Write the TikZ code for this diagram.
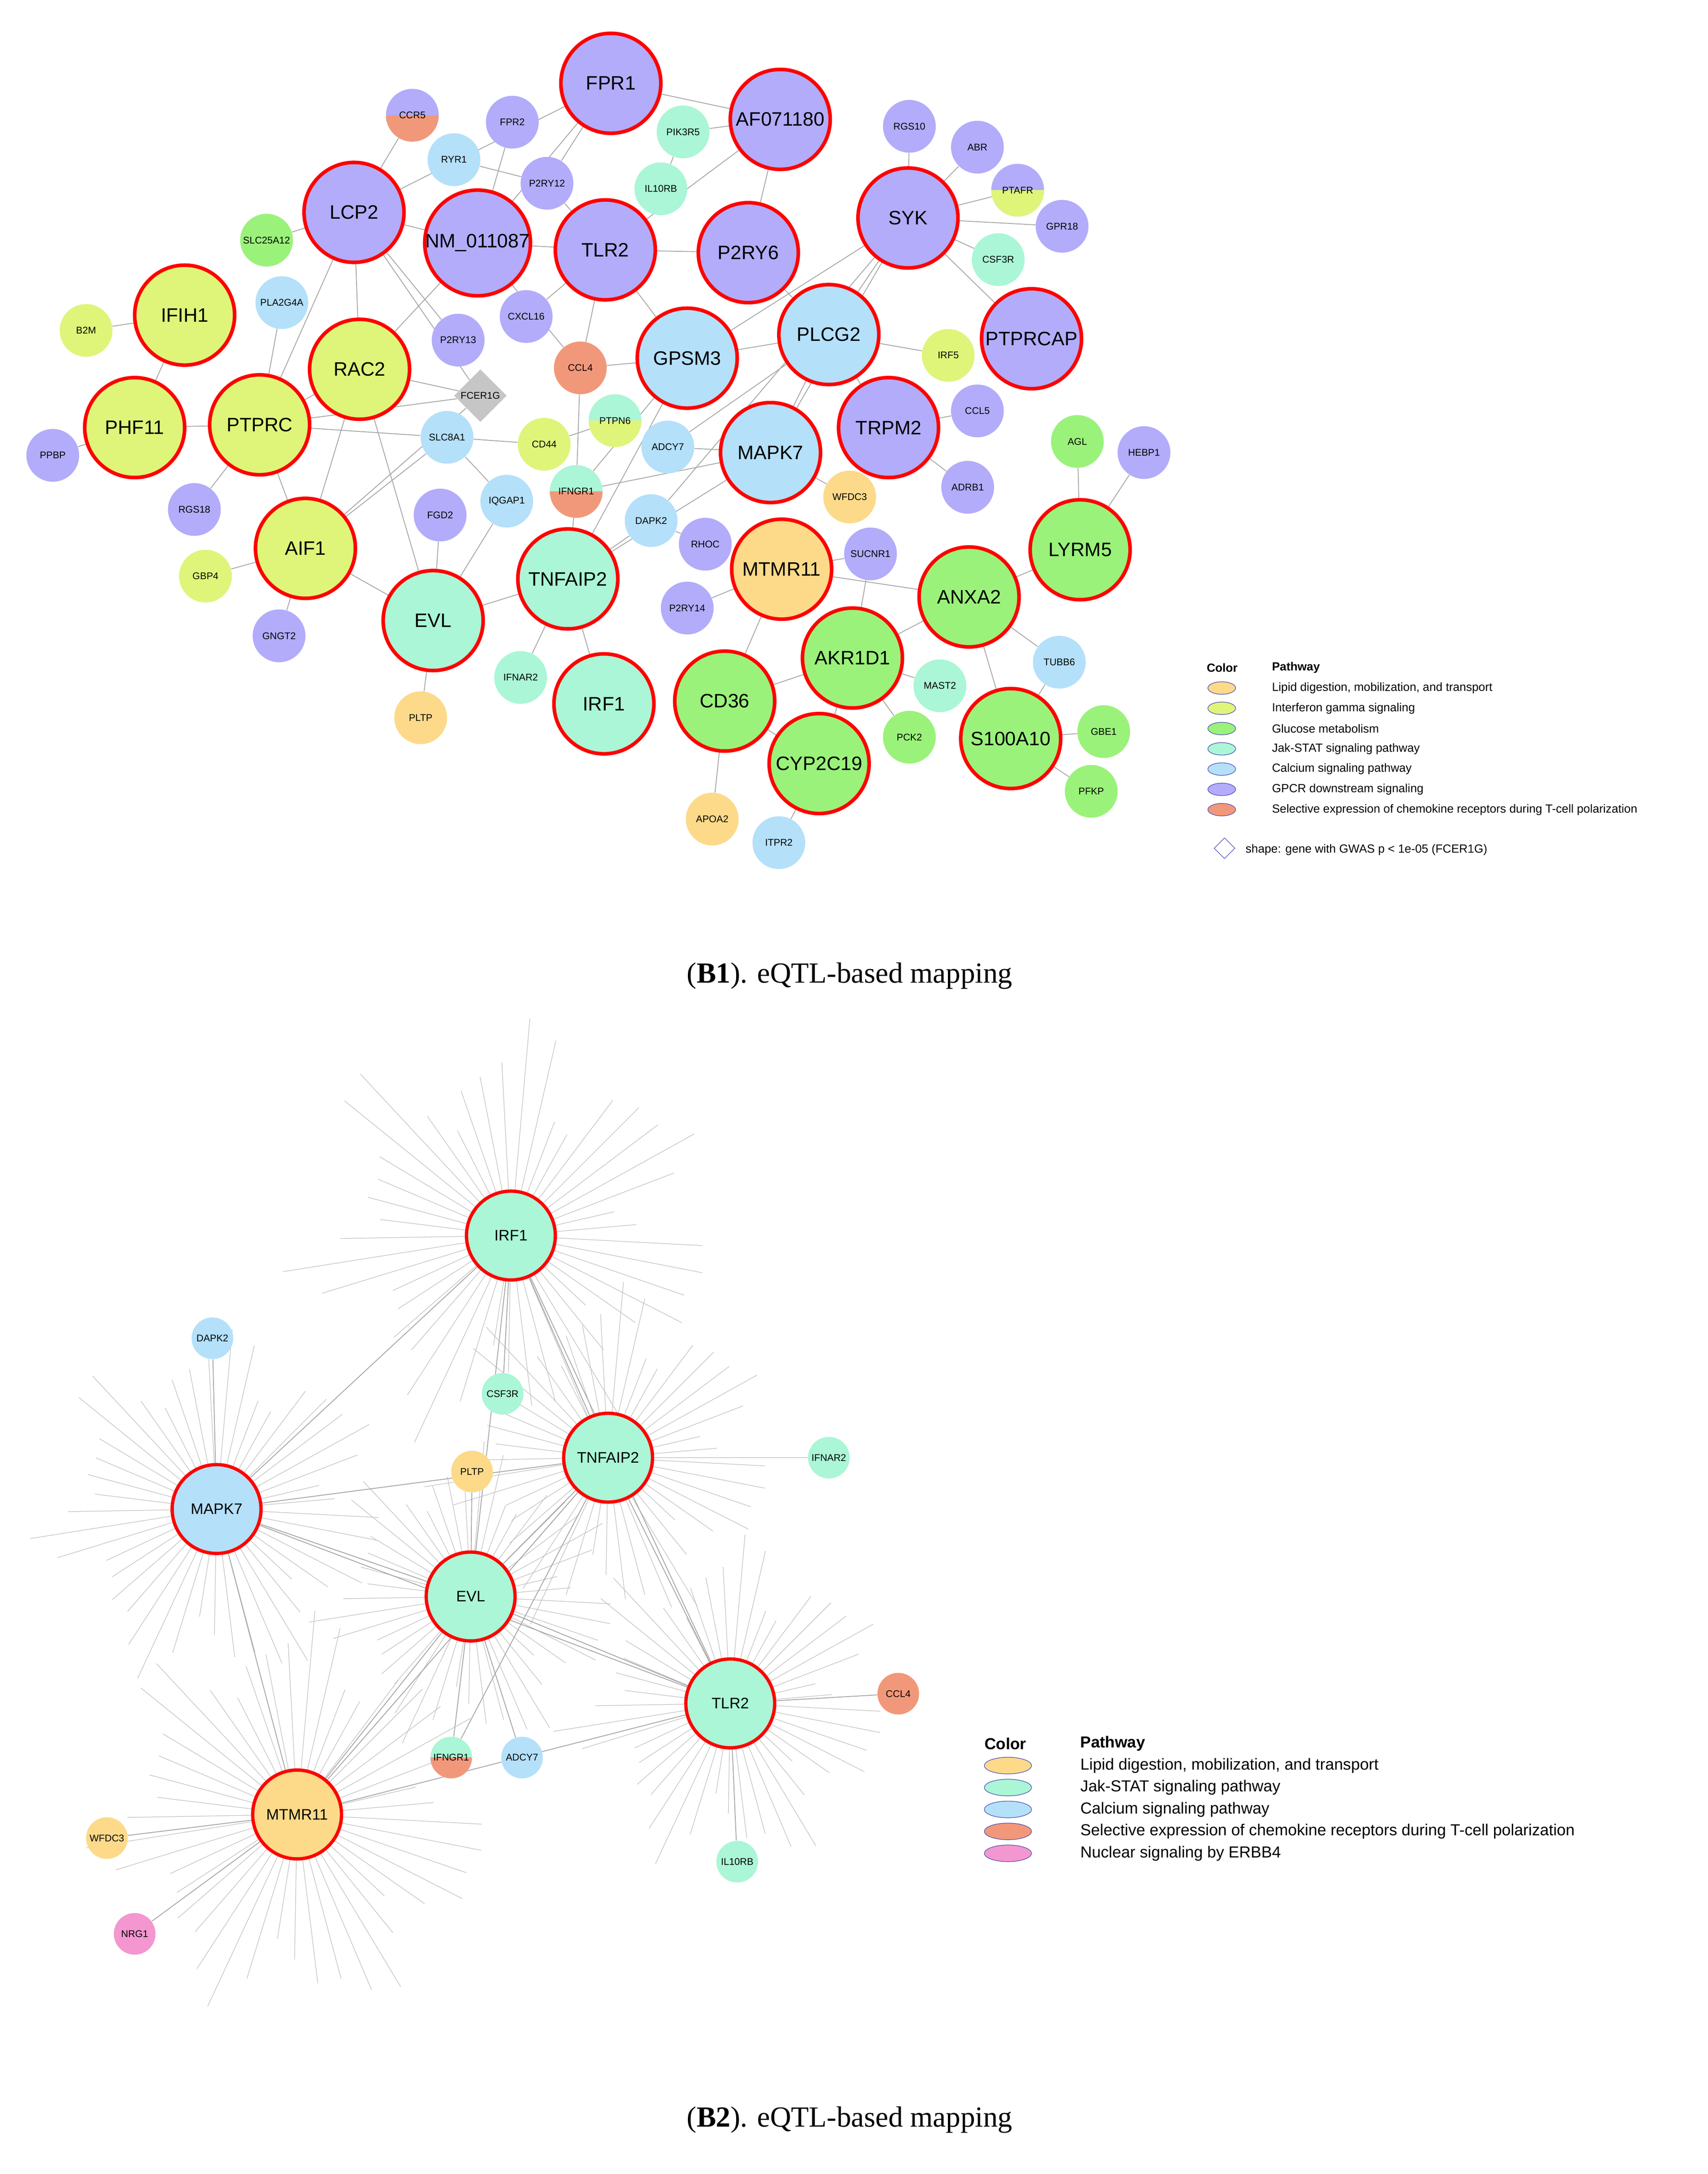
\documentclass[tikz,border=0pt]{standalone}
\usepackage{fontspec}
\setsansfont{Liberation Sans}
\setmainfont{Liberation Serif}
\usetikzlibrary{backgrounds,shapes.geometric}
\definecolor{gp}{RGB}{178,172,250}
\definecolor{yg}{RGB}{222,245,122}
\definecolor{gr}{RGB}{154,242,122}
\definecolor{mt}{RGB}{170,246,214}
\definecolor{lb}{RGB}{180,224,250}
\definecolor{or}{RGB}{252,218,138}
\definecolor{sa}{RGB}{242,152,122}
\definecolor{pk}{RGB}{244,150,208}
\tikzset{
 big/.style={circle,draw=red,line width=2.6pt,minimum size=72pt,inner sep=0pt,font=\fontsize{14}{14}\sffamily},
 bigb/.style={circle,draw=red,line width=2.4pt,minimum size=64pt,inner sep=0pt,font=\fontsize{11}{11}\sffamily},
 sm/.style={circle,minimum size=38pt,inner sep=0pt,font=\fontsize{7}{7}\sffamily},
 smb/.style={circle,minimum size=30pt,inner sep=0pt,font=\fontsize{7}{7}\sffamily},
 ed/.style={draw=gray!70,line width=0.6pt},
 sp/.style={draw=gray!50,line width=0.4pt},
 leg/.style={ellipse,draw=gray!60!blue,minimum width=20pt,minimum height=9pt,inner sep=0pt},
 lt/.style={anchor=west,font=\fontsize{8.5}{9}\sffamily,inner sep=0pt},
 lt2/.style={anchor=west,font=\fontsize{11.5}{12}\sffamily,inner sep=0pt},
 lower/.style={path picture={\fill[#1] (path picture bounding box.south west) rectangle (path picture bounding box.east);}},
}
\begin{document}
\begin{tikzpicture}[x=1pt,y=-1pt]
\useasboundingbox (0,0) rectangle (1230,1566);
% ---------- B1 ----------
\node[big,fill=gp] (FPR1) at (440,60) {FPR1};
\node[big,fill=gp] (AF) at (562,86) {AF071180};
\node[big,fill=gp] (LCP2) at (255,153) {LCP2};
\node[big,fill=gp] (NM) at (344,175) {NM\_011087};
\node[big,fill=gp] (TLR2) at (436,180) {TLR2};
\node[big,fill=gp] (P2RY6) at (539,182) {P2RY6};
\node[big,fill=gp] (SYK) at (654,157) {SYK};
\node[big,fill=yg] (IFIH1) at (133,227) {IFIH1};
\node[big,fill=yg] (RAC2) at (259,266) {RAC2};
\node[big,fill=yg] (PTPRC) at (187,306) {PTPRC};
\node[big,fill=yg] (PHF11) at (97,308) {PHF11};
\node[big,fill=lb] (GPSM3) at (495,258) {GPSM3};
\node[big,fill=lb] (PLCG2) at (597,241) {PLCG2};
\node[big,fill=gp] (PTPRCAP) at (743,244) {PTPRCAP};
\node[big,fill=lb] (MAPK7) at (555,326) {MAPK7};
\node[big,fill=gp] (TRPM2) at (640,308) {TRPM2};
\node[big,fill=yg] (AIF1) at (220,395) {AIF1};
\node[big,fill=mt] (EVL) at (312,447) {EVL};
\node[big,fill=mt] (TNFAIP2) at (409,417) {TNFAIP2};
\node[big,fill=or] (MTMR11) at (563,410) {MTMR11};
\node[big,fill=gr] (LYRM5) at (778,396) {LYRM5};
\node[big,fill=gr] (ANXA2) at (698,430) {ANXA2};
\node[big,fill=gr] (AKR1D1) at (614,474) {AKR1D1};
\node[big,fill=mt] (IRF1) at (435,507) {IRF1};
\node[big,fill=gr] (CD36) at (522,505) {CD36};
\node[big,fill=gr] (CYP2C19) at (590,550) {CYP2C19};
\node[big,fill=gr] (S100A10) at (728,532) {S100A10};
\node[sm,fill=gp,lower=sa] (CCR5) at (297,83) {CCR5};
\node[sm,fill=gp] (FPR2) at (369,88) {FPR2};
\node[sm,fill=lb] (RYR1) at (327,115) {RYR1};
\node[sm,fill=gp] (P2RY12) at (394,132) {P2RY12};
\node[sm,fill=mt] (PIK3R5) at (492,95) {PIK3R5};
\node[sm,fill=mt] (IL10RB) at (476,136) {IL10RB};
\node[sm,fill=gp] (RGS10) at (655,91) {RGS10};
\node[sm,fill=gp] (ABR) at (704,106) {ABR};
\node[sm,fill=gp,lower=yg] (PTAFR) at (733,137) {PTAFR};
\node[sm,fill=gp] (GPR18) at (765,163) {GPR18};
\node[sm,fill=mt] (CSF3R) at (719,187) {CSF3R};
\node[sm,fill=gr] (SLC25A12) at (192,173) {SLC25A12};
\node[sm,fill=lb] (PLA2G4A) at (203,218) {PLA2G4A};
\node[sm,fill=yg] (B2M) at (62,238) {B2M};
\node[sm,fill=gp] (P2RY13) at (330,245) {P2RY13};
\node[sm,fill=gp] (CXCL16) at (379,228) {CXCL16};
\node[diamond,fill=gray!45,minimum size=38pt,inner sep=0pt,font=\fontsize{7}{7}\sffamily] (FCER1G) at (346,285) {FCER1G};
\node[sm,fill=sa] (CCL4) at (418,265) {CCL4};
\node[sm,fill=yg] (IRF5) at (683,256) {IRF5};
\node[sm,fill=gp] (CCL5) at (704,296) {CCL5};
\node[sm,fill=mt,lower=yg] (PTPN6) at (443,303) {PTPN6};
\node[sm,fill=yg] (CD44) at (392,320) {CD44};
\node[sm,fill=lb] (SLC8A1) at (322,315) {SLC8A1};
\node[sm,fill=lb] (ADCY7) at (481,322) {ADCY7};
\node[sm,fill=gp] (PPBP) at (38,328) {PPBP};
\node[sm,fill=lb] (IQGAP1) at (365,361) {IQGAP1};
\node[sm,fill=mt,lower=sa] (IFNGR1) at (415,354) {IFNGR1};
\node[sm,fill=gp] (FGD2) at (317,371) {FGD2};
\node[sm,fill=gp] (RGS18) at (140,367) {RGS18};
\node[sm,fill=lb] (DAPK2) at (469,375) {DAPK2};
\node[sm,fill=gp] (RHOC) at (508,392) {RHOC};
\node[sm,fill=or] (WFDC3) at (612,358) {WFDC3};
\node[sm,fill=gp] (ADRB1) at (697,351) {ADRB1};
\node[sm,fill=gr] (AGL) at (776,318) {AGL};
\node[sm,fill=gp] (HEBP1) at (824,326) {HEBP1};
\node[sm,fill=gp] (SUCNR1) at (627,399) {SUCNR1};
\node[sm,fill=yg] (GBP4) at (148,415) {GBP4};
\node[sm,fill=gp] (P2RY14) at (495,438) {P2RY14};
\node[sm,fill=gp] (GNGT2) at (201,458) {GNGT2};
\node[sm,fill=mt] (IFNAR2) at (375,488) {IFNAR2};
\node[sm,fill=lb] (TUBB6) at (763,477) {TUBB6};
\node[sm,fill=mt] (MAST2) at (677,494) {MAST2};
\node[sm,fill=or] (PLTP) at (303,517) {PLTP};
\node[sm,fill=gr] (PCK2) at (655,531) {PCK2};
\node[sm,fill=gr] (GBE1) at (795,527) {GBE1};
\node[sm,fill=gr] (PFKP) at (786,570) {PFKP};
\node[sm,fill=or] (APOA2) at (513,590) {APOA2};
\node[sm,fill=lb] (ITPR2) at (561,607) {ITPR2};
\begin{scope}[on background layer]
\foreach \a/\b in {FPR1/AF,FPR1/NM,FPR1/LCP2,AF/TLR2,AF/P2RY6,AF/PIK3R5,LCP2/CCR5,LCP2/NM,LCP2/RAC2,LCP2/PTPRC,LCP2/P2RY13,LCP2/FCER1G,NM/TLR2,NM/FPR2,NM/RAC2,TLR2/P2RY6,TLR2/GPSM3,TLR2/CCL4,SYK/PLCG2,SYK/RGS10,SYK/ABR,SYK/GPR18,SYK/PTPRCAP,SYK/MAPK7,SYK/GPSM3,P2RY6/PLCG2,PLCG2/TRPM2,PLCG2/MAPK7,PLCG2/IRF5,TRPM2/ADRB1,TRPM2/CCL5,MAPK7/ADCY7,MAPK7/TNFAIP2,MAPK7/IFNGR1,GPSM3/CCL4,GPSM3/TNFAIP2,RAC2/PTPRC,RAC2/AIF1,RAC2/EVL,PTPRC/PHF11,PTPRC/AIF1,PTPRC/RGS18,PTPRC/SLC8A1,PTPRC/PLA2G4A,IFIH1/B2M,IFIH1/PHF11,PHF11/PPBP,AIF1/GBP4,AIF1/GNGT2,AIF1/EVL,AIF1/FCER1G,EVL/TNFAIP2,EVL/PLTP,EVL/FGD2,TNFAIP2/IRF1,TNFAIP2/IFNAR2,TNFAIP2/IFNGR1,TNFAIP2/DAPK2,MTMR11/CD36,MTMR11/ANXA2,MTMR11/P2RY14,MTMR11/SUCNR1,ANXA2/LYRM5,ANXA2/AKR1D1,ANXA2/S100A10,ANXA2/TUBB6,LYRM5/AGL,LYRM5/HEBP1,AKR1D1/CD36,AKR1D1/PCK2,AKR1D1/MAST2,AKR1D1/CYP2C19,AKR1D1/SUCNR1,S100A10/GBE1,S100A10/PFKP,S100A10/TUBB6,CD36/APOA2,CYP2C19/ITPR2,CD36/CYP2C19,IFNGR1/CCL4,CD44/SLC8A1,SLC8A1/IQGAP1,PTPN6/CD44,RYR1/P2RY12,P2RY12/TLR2,IL10RB/PIK3R5,CXCL16/TLR2,PLCG2/GPSM3,MAPK7/WFDC3,DAPK2/RHOC,LCP2/SLC25A12,RAC2/FCER1G,NM/CCL4,SYK/CSF3R,SYK/PTAFR,PLCG2/ADCY7,GPSM3/IFNGR1,AIF1/SLC8A1,PTPRC/FCER1G,FPR1/P2RY12,SYK/DAPK2,EVL/IQGAP1}
 \draw[ed] (\a) -- (\b);
\end{scope}
% legend B1
\node[lt,font=\fontsize{8.5}{9}\sffamily\bfseries] at (869,481) {Color};
\node[lt,font=\fontsize{8.5}{9}\sffamily\bfseries] at (916,481) {Pathway};
\foreach \c/\t [count=\i] in {or/{Lipid digestion, mobilization, and transport},yg/Interferon gamma signaling,gr/Glucose metabolism,mt/Jak-STAT signaling pathway,lb/Calcium signaling pathway,gp/GPCR downstream signaling,sa/Selective expression of chemokine receptors during T-cell polarization}{
 \node[leg,fill=\c] (l\i) at (880,{481+14.6*\i}) {};
 \node[lt] at (916,{481+14.6*\i}) {\t};}
\node[diamond,draw=gray!60!blue,minimum size=15pt,inner sep=0pt] (ld) at (882,611) {};
\node[lt] at (897,612) {shape: gene with GWAS p < 1e-05 (FCER1G)};
\node[font=\fontsize{21}{21}\selectfont] (c1) at (612,703) {(\textbf{B1}). eQTL-based mapping};
% ---------- B2 ----------
\node[bigb,fill=mt] (IRF1b) at (368,890) {IRF1};
\node[bigb,fill=mt] (TNFb) at (438,1050) {TNFAIP2};
\node[bigb,fill=lb] (MAPKb) at (156,1087) {MAPK7};
\node[bigb,fill=mt] (EVLb) at (339,1150) {EVL};
\node[bigb,fill=mt] (TLRb) at (526,1227) {TLR2};
\node[bigb,fill=or] (MTMb) at (214,1307) {MTMR11};
\node[smb,fill=lb] (DAPKb) at (153,964) {DAPK2};
\node[smb,fill=mt] (CSFb) at (362,1004) {CSF3R};
\node[smb,fill=or] (PLTPb) at (340,1060) {PLTP};
\node[smb,fill=mt] (IFNAb) at (597,1050) {IFNAR2};
\node[smb,fill=sa] (CCL4b) at (647,1220) {CCL4};
\node[smb,fill=mt,lower=sa] (IFNGb) at (325,1266) {IFNGR1};
\node[smb,fill=lb] (ADCYb) at (376,1266) {ADCY7};
\node[smb,fill=mt] (IL10b) at (531,1341) {IL10RB};
\node[smb,fill=or] (WFDCb) at (77,1324) {WFDC3};
\node[smb,fill=pk] (NRGb) at (97,1393) {NRG1};
\begin{scope}[on background layer]
\foreach \h/\r/\v in {IRF1b/120/30,TNFb/100/22,MAPKb/105/20,EVLb/90/18,TLRb/95/22,MTMb/120/22}{
 \foreach \a in {0,8,...,352}
  \draw[sp] (\h) -- ++(\a+3:{\r+\v*sin(7*\a)+0.6*\v*cos(13*\a)});}
\foreach \a/\b in {IRF1b/TNFb,IRF1b/EVLb,IRF1b/MAPKb,IRF1b/TLRb,TNFb/EVLb,TNFb/TLRb,TNFb/MAPKb,EVLb/TLRb,EVLb/MAPKb,EVLb/MTMb,MAPKb/MTMb,EVLb/IFNGb,EVLb/ADCYb,MAPKb/DAPKb,IRF1b/CSFb,EVLb/PLTPb,TNFb/IFNAb,TLRb/CCL4b,TLRb/IL10b,MTMb/WFDCb,MTMb/NRGb,TNFb/IFNGb,MTMb/TLRb,MAPKb/TLRb,TNFb/MTMb}
 \draw[ed] (\a) -- (\b);
\end{scope}
\node[lt2,font=\fontsize{11.5}{12}\sffamily\bfseries] at (709,1256) {Color};
\node[lt2,font=\fontsize{11.5}{12}\sffamily\bfseries] at (778,1256) {Pathway};
\foreach \c/\t [count=\i] in {or/{Lipid digestion, mobilization, and transport},mt/Jak-STAT signaling pathway,lb/Calcium signaling pathway,sa/Selective expression of chemokine receptors during T-cell polarization,pk/Nuclear signaling by ERBB4}{
 \node[leg,fill=\c,minimum width=34pt,minimum height=12pt] (m\i) at (726,{1256+15.8*\i}) {};
 \node[lt2] at (778,{1256+15.8*\i}) {\t};}
\node[font=\fontsize{21}{21}\selectfont] (c2) at (612,1527) {(\textbf{B2}). eQTL-based mapping};
\end{tikzpicture}
\end{document}
